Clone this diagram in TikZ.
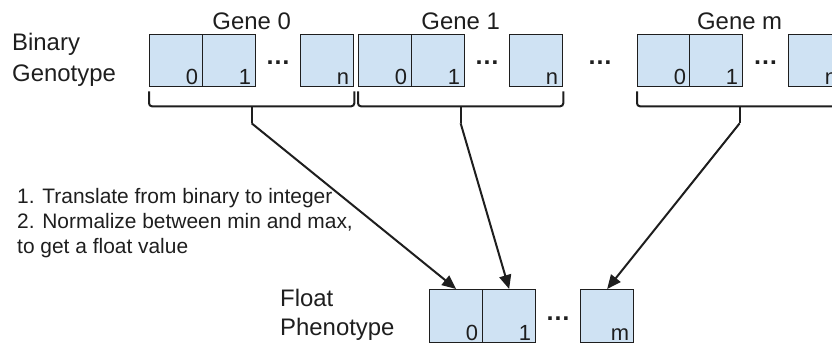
\documentclass[tikz,border=0pt]{standalone}
\usepackage{fontspec}
\setmainfont{Liberation Sans}
\usetikzlibrary{arrows.meta,calc}
\definecolor{cellfill}{HTML}{CFE2F3}
\definecolor{ink}{HTML}{1E1E1E}
\begin{document}
\begin{tikzpicture}[x=1bp,y=-1bp,
  cell/.style={draw=ink, fill=cellfill, line width=1.3bp, minimum width=53bp, minimum height=52bp, inner sep=0pt, anchor=north west},
  pcell/.style={cell, minimum height=53bp},
  idx/.style={font=\fontsize{22}{24}\selectfont, text=ink, anchor=base east, inner sep=0pt},
  lbl/.style={font=\fontsize{24}{28}\selectfont, text=ink, inner sep=0pt},
  note/.style={font=\fontsize{21}{24}\selectfont, text=ink, inner sep=0pt, anchor=base west},
  dotsn/.style={font=\fontsize{25}{28}\selectfont\bfseries, text=ink, inner sep=0pt},
  brace/.style={draw=ink, line width=2bp, rounded corners=3bp},
  arr/.style={draw=ink, line width=2bp, -{Triangle[length=14bp,width=12bp]}}]
\useasboundingbox (0,0) rectangle (832,345);
\clip (0,0) rectangle (832,345);
% Gene 0
\node[cell] (g0b0) at (149,34) {};
\node[cell] (g0b1) at (202,34) {};
\node[cell] (g0bn) at (300,34) {};
% Gene 1
\node[cell] (g1b0) at (358,34) {};
\node[cell] (g1b1) at (411,34) {};
\node[cell] (g1bn) at (509,34) {};
% Gene m
\node[cell] (gmb0) at (637,34) {};
\node[cell] (gmb1) at (689,34) {};
\node[cell] (gmbn) at (788,34) {};
% indices
\foreach \g in {g0,g1,gm}{
  \node[idx] (\g i0) at ($(\g b0.south east)+(-5,-3)$) {0};
  \node[idx] (\g i1) at ($(\g b1.south east)+(-5,-3)$) {1};
  \node[idx] (\g in) at ($(\g bn.south east)+(-5,-3)$) {n};
}
% dots
\node[dotsn] (d0) at ($(g0b1.east)!0.5!(g0bn.west)+(0,2)$) {…};
\node[dotsn] (d1) at ($(g1b1.east)!0.5!(g1bn.west)+(0,2)$) {…};
\node[dotsn] (dm) at ($(gmb1.east)!0.5!(gmbn.west)+(0,2)$) {…};
\node[dotsn] (dg) at ($(g1bn.east)!0.5!(gmb0.west)+(0,2)$) {…};
% gene labels
\node[lbl, anchor=base] (lg0) at ($(g0b0.north west)!0.5!(g0bn.north east)+(0,-5)$) {Gene 0};
\node[lbl, anchor=base] (lg1) at ($(g1b0.north west)!0.5!(g1bn.north east)+(0,-5)$) {Gene 1};
\node[lbl, anchor=base] (lgm) at ($(gmb0.north west)!0.5!(gmbn.north east)+(0,-5)$) {Gene m};
% left labels
\node[lbl, anchor=base west] (bin) at (12,50) {Binary};
\node[lbl, anchor=base west] (geno) at (12,81) {Genotype};
% braces
\foreach \g in {g0,g1,gm}{
  \draw[brace] ($(\g b0.south west)+(0,4)$) -- ($(\g b0.south west)+(0,19)$) -- ($(\g bn.south east)+(0,19)$) -- ($(\g bn.south east)+(0,4)$);
  \coordinate (\g m) at ($(\g b0.south west)!0.5!(\g bn.south east)+(0,19)$);
  \coordinate (\g t) at ($(\g m)+(0,17)$);
  \draw[brace] (\g m) -- (\g t);
}
% phenotype
\node[pcell] (p0) at (429,289) {};
\node[pcell] (p1) at (482,289) {};
\node[pcell] (pm) at (580,289) {};
\node[idx] (pi0) at ($(p0.south east)+(-5,-3)$) {0};
\node[idx] (pi1) at ($(p1.south east)+(-5,-3)$) {1};
\node[idx] (pim) at ($(pm.south east)+(-5,-3)$) {m};
\node[dotsn] (dp) at ($(p1.east)!0.5!(pm.west)+(0,2)$) {…};
\node[lbl, anchor=base west] (flt) at (280,306) {Float};
\node[lbl, anchor=base west] (phen) at (280,335) {Phenotype};
% arrows
\draw[arr] (g0t) -- (p0.north);
\draw[arr] (g1t) -- (p1.north);
\draw[arr] (gmt) -- (pm.north);
% notes
\node[note] (n1) at (17,203) {1. Translate from binary to integer};
\node[note] (n2) at (17,228) {2. Normalize between min and max,};
\node[note] (n3) at (17,253) {to get a float value};
\end{tikzpicture}
\end{document}
